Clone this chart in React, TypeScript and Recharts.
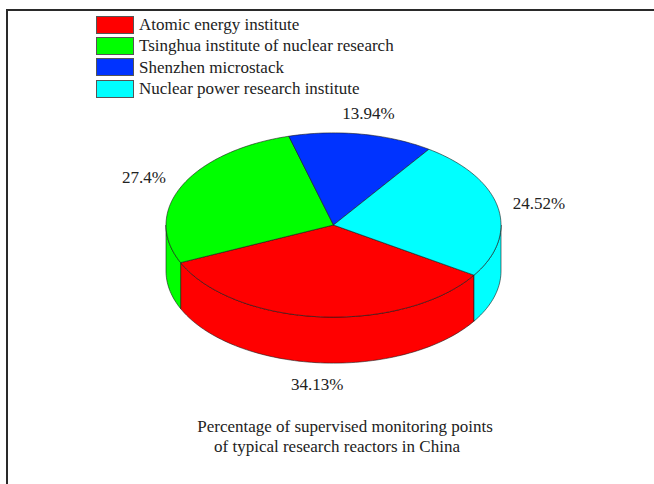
import { PieChart, Pie, Cell, Legend } from 'recharts';

const NAMES = [
  'Atomic energy institute',
  'Tsinghua institute of nuclear research',
  'Shenzhen microstack',
  'Nuclear power research institute',
];
const SHARES = [34.13, 27.4, 13.94, 24.52];
const LABELS = ['34.13%', '27.4%', '13.94%', '24.52%'];
const COLORS = ['#ff0000', '#00ff00', '#0033ff', '#00ffff'];

const FONT = '"Liberation Serif", "Times New Roman", Times, serif';
const TILT = 0.55; // ellipse squash of the top face
const DEPTH = 46; // height of the cylinder wall

const rad = (deg: number) => (deg * Math.PI) / 180;

function ellipsePoint(cx: number, cy: number, rx: number, ry: number, deg: number): [number, number] {
  return [cx + rx * Math.cos(rad(deg)), cy - ry * Math.sin(rad(deg))];
}

function sampleAngles(a1: number, a2: number): number[] {
  const steps = Math.max(4, Math.ceil(Math.abs(a2 - a1) / 1.5));
  return Array.from({ length: steps + 1 }, (_, i) => a1 + ((a2 - a1) * i) / steps);
}

/** Draws one pie slice as a tilted cylinder piece: front wall plus top face. */
function Slice3D(props: any) {
  const { cx, cy, outerRadius, startAngle, endAngle, fill } = props;
  const rx = outerRadius;
  const ry = outerRadius * TILT;

  // split the slice at every multiple of 180 so we know which parts face us
  const lo = Math.min(startAngle, endAngle);
  const hi = Math.max(startAngle, endAngle);
  const cuts = [lo];
  for (let k = Math.ceil(lo / 180); k * 180 < hi; k++) {
    if (k * 180 > lo) cuts.push(k * 180);
  }
  cuts.push(hi);

  const walls: string[] = [];
  for (let i = 0; i < cuts.length - 1; i++) {
    const mid = (cuts[i] + cuts[i + 1]) / 2;
    if (Math.sin(rad(mid)) >= 0) continue;
    const angs = sampleAngles(cuts[i], cuts[i + 1]);
    const top = angs.map((a) => ellipsePoint(cx, cy, rx, ry, a));
    const bottom = top.map(([x, y]) => [x, y + DEPTH]).reverse();
    const pts = [...top, ...bottom];
    walls.push('M' + pts.map(([x, y]) => `${x.toFixed(2)},${y.toFixed(2)}`).join(' L') + ' Z');
  }

  const face = sampleAngles(startAngle, endAngle).map((a) => ellipsePoint(cx, cy, rx, ry, a));
  const faceD =
    `M${cx},${cy} L` + face.map(([x, y]) => `${x.toFixed(2)},${y.toFixed(2)}`).join(' L') + ' Z';

  return (
    <g>
      {walls.map((d, i) => (
        <path key={i} d={d} fill={fill} stroke="#1a1a1a" strokeWidth={0.6} strokeLinejoin="round" />
      ))}
      <path d={faceD} fill={fill} stroke="#1a1a1a" strokeWidth={0.6} strokeLinejoin="round" />
    </g>
  );
}

function renderLabel(props: any) {
  const { cx, cy, outerRadius, midAngle, index } = props;
  const rx = outerRadius + 42;
  const ry = outerRadius * TILT + 21;
  const s = Math.sin(rad(midAngle));
  const x = cx + rx * Math.cos(rad(midAngle));
  const y = cy - ry * s + (s < 0 ? DEPTH : 0);
  return (
    <text
      key={`lbl-${index}`}
      x={x}
      y={y + 6}
      textAnchor="middle"
      fontFamily={FONT}
      fontSize={17}
      fill="#222"
    >
      {LABELS[index]}
    </text>
  );
}

function LegendBox({ payload }: any) {
  // keep the data order (recharts sorts legend items by name)
  const items = [...(payload ?? [])].sort(
    (a: any, b: any) => NAMES.indexOf(a.value) - NAMES.indexOf(b.value),
  );
  return (
    <div style={{ fontFamily: FONT, fontSize: 17, color: '#222' }}>
      {items.map((entry: any, i: number) => (
        <div key={i} style={{ display: 'flex', alignItems: 'center', height: 21.3 }}>
          <span
            style={{
              width: 36,
              height: 16,
              background: entry.color,
              border: '1px solid #555',
              marginRight: 5,
              display: 'inline-block',
            }}
          />
          <span style={{ lineHeight: '21px' }}>{entry.value}</span>
        </div>
      ))}
    </div>
  );
}

export default function App() {
  const data = NAMES.map((name, i) => ({ name, value: SHARES[i] }));

  return (
    <div style={{ position: 'relative', width: 654, height: 484, background: '#fff', overflow: 'hidden' }}>
      <style>{'body{margin:0;}'}</style>
      <div
        style={{
          position: 'absolute',
          left: 6,
          top: 9,
          right: -4,
          bottom: -4,
          borderTop: '2px solid #2a2a2a',
          borderLeft: '2px solid #2a2a2a',
        }}
      />
      <PieChart
        width={654}
        height={484}
        margin={{ top: 0, right: 0, bottom: 0, left: 0 }}
        style={{ position: 'absolute', left: 0, top: 0 }}
      >
        <Legend
          layout="vertical"
          align="center"
          verticalAlign="middle"
          content={<LegendBox />}
          wrapperStyle={{ left: 96, top: 14, width: 360 }}
        />
        <Pie
          data={data}
          dataKey="value"
          nameKey="name"
          cx={333.5}
          cy={225}
          outerRadius={167.5}
          startAngle={-33}
          endAngle={-393}
          shape={Slice3D}
          activeShape={Slice3D}
          inactiveShape={Slice3D}
          label={renderLabel}
          labelLine={false}
          isAnimationActive={false}
          rootTabIndex={-1}
        >
          {data.map((d, i) => (
            <Cell key={d.name} fill={COLORS[i]} />
          ))}
        </Pie>
        <text x={345} y={432} textAnchor="middle" fontFamily={FONT} fontSize={17} fill="#222">
          Percentage of supervised monitoring points
        </text>
        <text x={337} y={452} textAnchor="middle" fontFamily={FONT} fontSize={17} fill="#222">
          of typical research reactors in China
        </text>
      </PieChart>
    </div>
  );
}
